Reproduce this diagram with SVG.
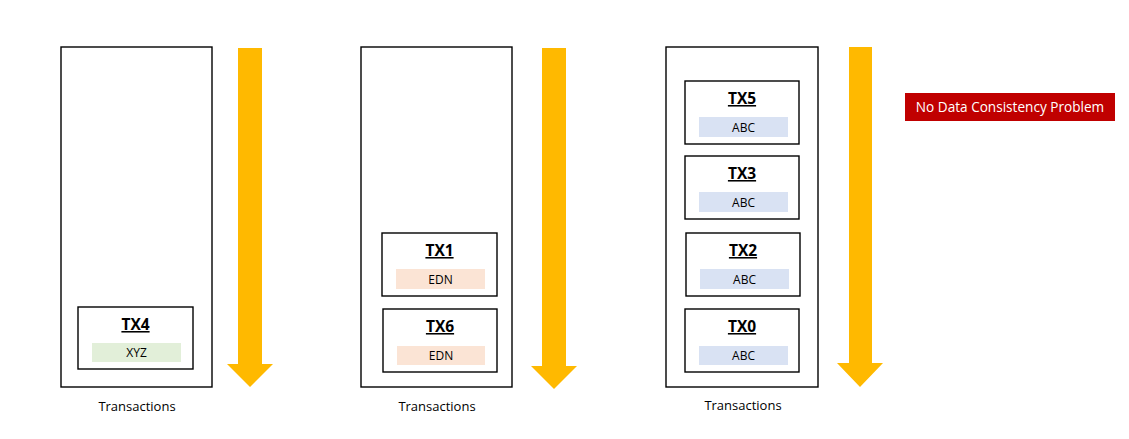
<svg xmlns="http://www.w3.org/2000/svg" width="1129" height="439" viewBox="0 0 1129 439">
<style>
.outer{fill:#fff;stroke:#000;stroke-width:1.4}
.box{fill:#fff;stroke:#000;stroke-width:1.4}
.tx{font-family:"Open Sans","Noto Sans",sans-serif;font-weight:bold;font-size:15.5px;text-anchor:middle;text-decoration:underline;fill:#000}
.lbl{font-family:"Open Sans","Noto Sans",sans-serif;font-size:12px;text-anchor:middle;fill:#000}
.cap{font-family:"Open Sans","Noto Sans",sans-serif;font-size:13px;text-anchor:middle;fill:#000}
.g{fill:#e2efd9}.o{fill:#fbe4d5}.b{fill:#d9e2f3}
.arr{fill:#ffb900}
</style>
<rect width="1129" height="439" fill="#fff"/>
<g id="panel1">
<rect class="outer" x="61" y="47" width="151" height="340"/>
<text class="cap" x="137" y="411">Transactions</text>
</g>
<g id="panel2">
<rect class="outer" x="361" y="47" width="151" height="340"/>
<text class="cap" x="437" y="411">Transactions</text>
</g>
<g id="panel3">
<rect class="outer" x="666" y="47" width="152" height="340"/>
<text class="cap" x="743" y="410">Transactions</text>
</g>
<g id="tx4">
<rect class="box" x="78" y="307" width="115" height="62"/>
<text class="tx" x="135.5" y="330">TX4</text>
<rect class="g" x="92" y="343" width="89" height="19"/>
<text class="lbl" x="136.5" y="357">XYZ</text>
</g>
<g id="tx1">
<rect class="box" x="382" y="233" width="115" height="63"/>
<text class="tx" x="439.5" y="256">TX1</text>
<rect class="o" x="396" y="269" width="89" height="20"/>
<text class="lbl" x="440.5" y="283.5">EDN</text>
</g>
<g id="tx6">
<rect class="box" x="383" y="309" width="114" height="63"/>
<text class="tx" x="440" y="332">TX6</text>
<rect class="o" x="397" y="346" width="88" height="19"/>
<text class="lbl" x="441" y="360">EDN</text>
</g>
<g id="tx5">
<rect class="box" x="685" y="81" width="114" height="63"/>
<text class="tx" x="742" y="104">TX5</text>
<rect class="b" x="699" y="117" width="89" height="20"/>
<text class="lbl" x="743.5" y="131.5">ABC</text>
</g>
<g id="tx3">
<rect class="box" x="685" y="156" width="114" height="63"/>
<text class="tx" x="742" y="179">TX3</text>
<rect class="b" x="699" y="192" width="89" height="20"/>
<text class="lbl" x="743.5" y="206.5">ABC</text>
</g>
<g id="tx2">
<rect class="box" x="686" y="233" width="114" height="63"/>
<text class="tx" x="743" y="256">TX2</text>
<rect class="b" x="700" y="269" width="89" height="20"/>
<text class="lbl" x="744.5" y="283.5">ABC</text>
</g>
<g id="tx0">
<rect class="box" x="685" y="309" width="114" height="63"/>
<text class="tx" x="742" y="332">TX0</text>
<rect class="b" x="699" y="346" width="89" height="19"/>
<text class="lbl" x="743.5" y="360">ABC</text>
</g>
<g id="note">
<rect x="905" y="93" width="210" height="28" fill="#c00000"/>
<text x="1010" y="112" font-family="'Open Sans','Noto Sans',sans-serif" font-size="13.6px" text-anchor="middle" fill="#fff">No Data Consistency Problem</text>
</g>
<g id="connectors">
<polygon class="arr" points="238,48 262,48 262,364 273,364 250,387 227,364 238,364"/>
<polygon class="arr" points="542,48 566,48 566,366 577,366 554,389 531,366 542,366"/>
<polygon class="arr" points="849,47 872,47 872,363 883,363 860,387 837,363 849,363"/>
</g>
</svg>
